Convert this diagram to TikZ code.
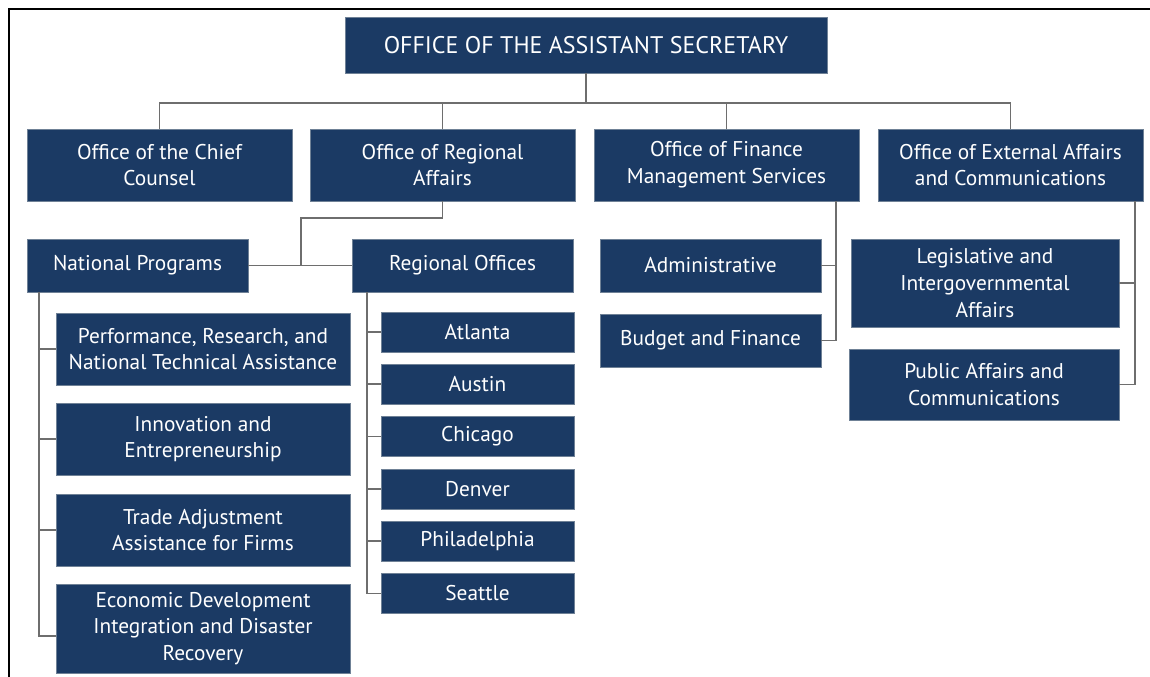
\documentclass[tikz,border=0pt]{standalone}
\usepackage{fontspec}
\setmainfont{PT Sans}
\usepackage{tikz}
\usetikzlibrary{calc,positioning}
\definecolor{navy}{HTML}{1B3A64}
\definecolor{navyedge}{HTML}{6F8196}
\definecolor{linkgray}{HTML}{6E6E6E}

\begin{document}
\begin{tikzpicture}[x=0.75pt,y=-0.75pt,
        orgbox/.style={fill=navy,draw=navyedge,line width=0.4pt,text=white,align=center,
            inner sep=0pt,font=\fontsize{16}{20}\selectfont},
        wh/.style 2 args={minimum width=#1*0.75pt,minimum height=#2*0.75pt},
        link/.style={draw=linkgray,line width=1.2pt}]
        \useasboundingbox (0,0) rectangle (1150,677);
        \draw[line width=1pt] (9,677)--(9,9)--(1150,9);

        \node[orgbox,wh={482}{56},font=\fontsize{18}{20}\selectfont] (top) at (586,45) {OFFICE OF THE ASSISTANT SECRETARY};

        \node[orgbox,wh={265}{72}] (chief) at (159.5,165) {Office of the Chief\\Counsel};
        \node[orgbox,wh={265}{72}] (regaffairs) at (442.5,165) {Office of Regional\\Affairs};
        \node[orgbox,wh={265}{72}] (finance) at (726.5,165) {Office of Finance\\Management Services};
        \node[orgbox,wh={265}{72}] (external) at (1010.5,165) {Office of External Affairs\\and Communications};

        \node[orgbox,wh={221}{53}] (natprog) at (137.5,265.5) {National Programs};
        \node[orgbox,wh={221}{53}] (regoffices) at (462.5,265.5) {Regional Offices};

        \node[orgbox,wh={294}{72}] (perf) at (203,349) {Performance, Research, and\\National Technical Assistance};
        \node[orgbox,wh={294}{72}] (innov) at (203,439) {Innovation and\\Entrepreneurship};
        \node[orgbox,wh={294}{72}] (trade) at (203,530) {Trade Adjustment\\Assistance for Firms};
        \node[orgbox,wh={294}{89}] (econ) at (203,628.5) {Economic Development\\Integration and Disaster\\Recovery};

        \foreach \city [count=\i] in {Atlanta,Austin,Chicago,Denver,Philadelphia,Seattle}
            \node[orgbox,wh={193}{40}] (city\i) at (477.5,{332+52.3*(\i-1)}) {\city};

        \node[orgbox,wh={221}{53}] (admin) at (710.5,265.5) {Administrative};
        \node[orgbox,wh={221}{53}] (budget) at (710.5,340.5) {Budget and Finance};

        \node[orgbox,wh={268}{88}] (legis) at (985,283) {Legislative and\\Intergovernmental\\Affairs};
        \node[orgbox,wh={270}{71}] (public) at (984,384.5) {Public Affairs and\\Communications};

        % top level bus
        \coordinate (bus) at (0,103);
        \draw[link] (top.south) -- (top.south |- bus);
        \draw[link] (chief.north) |- (external.north |- bus) -- (external.north);
        \draw[link] (regaffairs.north) -- (regaffairs.north |- bus);
        \draw[link] (finance.north) -- (finance.north |- bus);

        % regional affairs
        \coordinate (rajoint) at (301,218);
        \draw[link] (regaffairs.south) |- (rajoint) -- (rajoint |- natprog.east);
        \draw[link] (natprog.east) -- (regoffices.west);

        \coordinate (npspine) at ($(natprog.south west)+(12,0)$);
        \draw[link] (npspine) |- ($(econ.west)+(0,7.5)$);
        \foreach \b in {perf,innov,trade}
            \draw[link] (\b.west) -- (\b.west -| npspine);

        \coordinate (rospine) at ($(regoffices.south west)+(15,0)$);
        \draw[link] (rospine) |- (city6.west);
        \foreach \i in {1,...,5}
            \draw[link] (city\i.west) -- (city\i.west -| rospine);

        % finance and external affairs
        \coordinate (fspine) at ($(finance.south east)+(-23,0)$);
        \draw[link] (fspine) |- (budget.east);
        \draw[link] (admin.east) -- (admin.east -| fspine);

        \coordinate (espine) at ($(external.south east)+(-8,0)$);
        \draw[link] (espine) |- (public.east);
        \draw[link] (legis.east) -- (legis.east -| espine);
    \end{tikzpicture}
\end{document}
